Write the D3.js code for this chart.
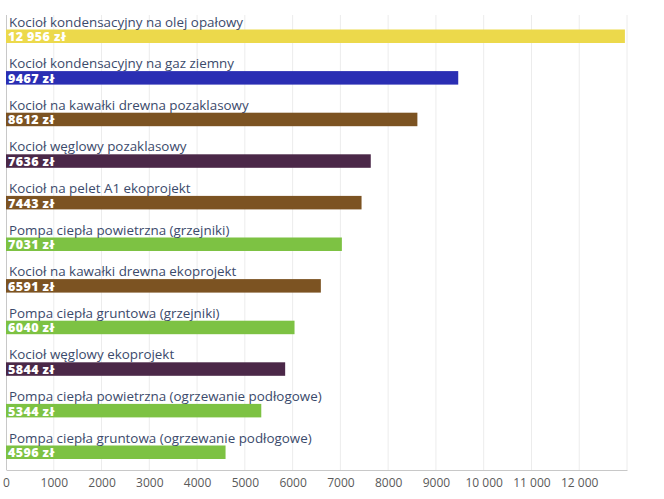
<!DOCTYPE html>
<html><head><meta charset="utf-8">
<script src="https://cdn.jsdelivr.net/npm/d3@7"></script>
<style>body{margin:0;background:#fff}svg{display:block}</style>
</head><body>
<script>
const categories = [
  "Kocioł kondensacyjny na olej opałowy",
  "Kocioł kondensacyjny na gaz ziemny",
  "Kocioł na kawałki drewna pozaklasowy",
  "Kocioł węglowy pozaklasowy",
  "Kocioł na pelet A1 ekoprojekt",
  "Pompa ciepła powietrzna (grzejniki)",
  "Kocioł na kawałki drewna ekoprojekt",
  "Pompa ciepła gruntowa (grzejniki)",
  "Kocioł węglowy ekoprojekt",
  "Pompa ciepła powietrzna (ogrzewanie podłogowe)",
  "Pompa ciepła gruntowa (ogrzewanie podłogowe)"
];
const values = [12956, 9467, 8612, 7636, 7443, 7031, 6591, 6040, 5844, 5344, 4596];
const groups = ["olej", "gaz", "drewno", "wegiel", "drewno", "pompa", "drewno", "pompa", "wegiel", "pompa", "pompa"];
const groupNames = ["olej", "gaz", "drewno", "wegiel", "pompa"];
const groupColors = ["#ecd94b", "#2a2eb3", "#7c5322", "#4b2848", "#7dc243"];
const tickValues = [0,1000,2000,3000,4000,5000,6000,7000,8000,9000,10000,11000,12000];

const W = 664, H = 499;
const svg = d3.select("body").append("svg").attr("width", W).attr("height", H);

const x = d3.scaleLinear().domain([0, 13000]).range([6, 627]);
const y = d3.scaleBand().domain(categories).range([8, 8 + 41.6 * categories.length]).padding(0);
const color = d3.scaleOrdinal().domain(groupNames).range(groupColors);

const fmt = v => {
  const s = String(v);
  return v >= 10000 ? s.replace(/\B(?=(\d{3})+(?!\d))/g, " ") : s;
};

// gridlines
svg.append("g").selectAll("line").data(tickValues.slice(1).concat([13000])).join("line")
  .attr("x1", d => x(d)).attr("x2", d => x(d))
  .attr("y1", 15).attr("y2", 470)
  .attr("stroke", "#ececec").attr("stroke-width", 1);

// axis
const axis = d3.axisBottom(x).tickValues(tickValues).tickSize(0).tickPadding(8).tickFormat(fmt);
const ag = svg.append("g").attr("transform", "translate(0,470)").call(axis);
ag.select(".domain").attr("stroke", "#c8c8c8");
ag.selectAll("text").attr("fill", "#5a5a5a").style("font-family", "'Open Sans', sans-serif").style("font-size", "12px").attr("dy", "0.71em").attr("y", 8);

// left axis line
svg.append("line").attr("x1", 6.5).attr("x2", 6.5).attr("y1", 15).attr("y2", 470)
  .attr("stroke", "#c8c8c8");

const rows = svg.append("g").selectAll("g").data(categories).join("g");

rows.append("rect")
  .attr("x", x(0)).attr("y", d => y(d) + 21.5)
  .attr("width", (d, i) => x(values[i]) - x(0))
  .attr("height", 13.5)
  .attr("fill", (d, i) => color(groups[i]));

rows.append("text")
  .attr("x", 9).attr("y", d => y(d) + 18.5)
  .attr("fill", "#3b4a6b")
  .style("font-family", "'Open Sans', sans-serif").style("font-size", "13.4px")
  .text(d => d);

rows.append("text")
  .attr("x", 8).attr("y", d => y(d) + 33.2)
  .attr("fill", "#fff")
  .style("font-family", "'Open Sans', sans-serif").style("font-size", "12.5px").style("font-weight", "800")
  .style("letter-spacing", "0.4px")
  .text((d, i) => fmt(values[i]) + " zł");
</script>
</body></html>
